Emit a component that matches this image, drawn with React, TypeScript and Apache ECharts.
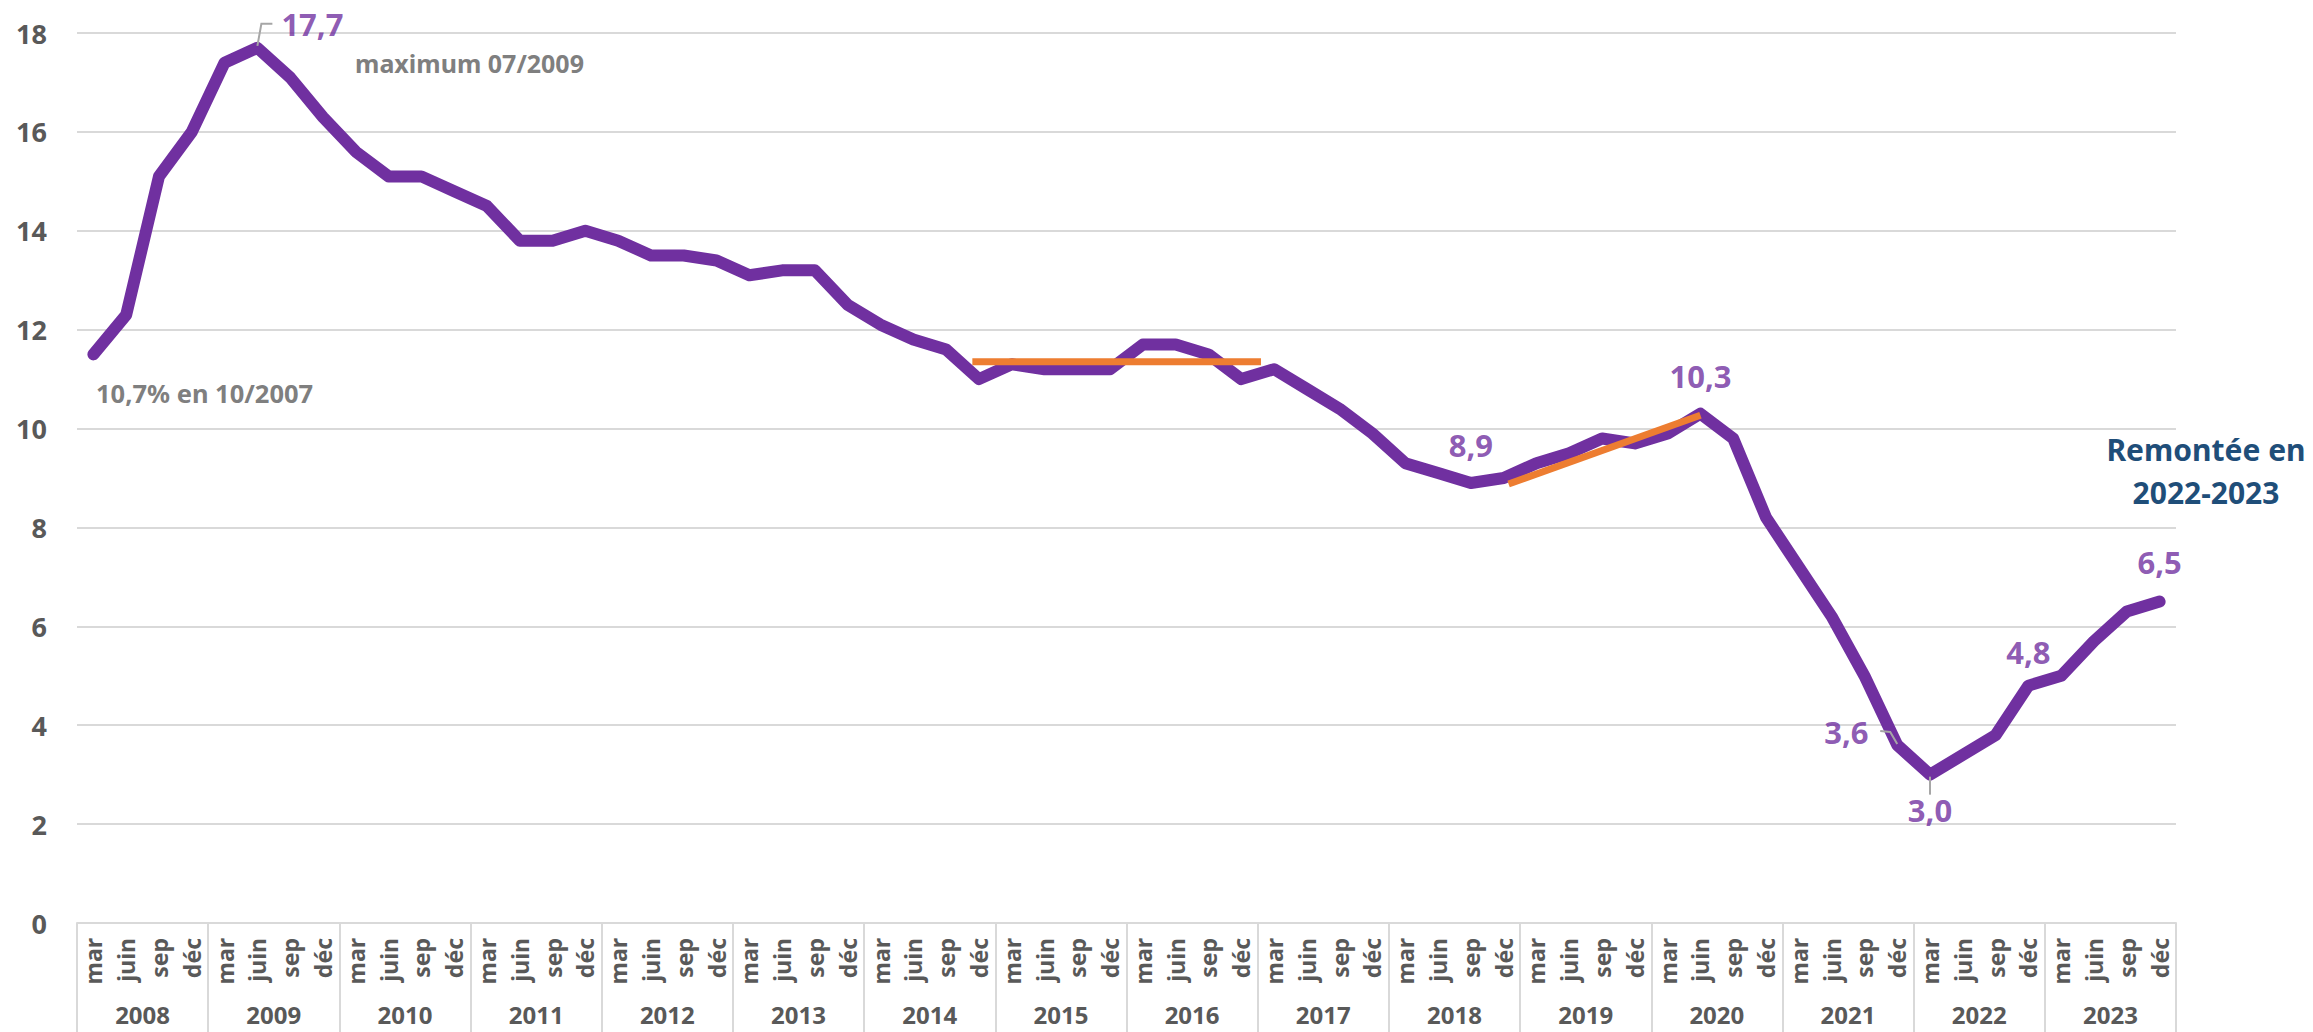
import React, { useEffect, useRef } from "react";
import * as echarts from "echarts";

const YEARS = ["2008", "2009", "2010", "2011", "2012", "2013", "2014", "2015", "2016", "2017", "2018", "2019", "2020", "2021", "2022", "2023"];
const QUARTERS = ["mar", "juin", "sep", "déc"];
const CATEGORIES = YEARS.flatMap((y) => QUARTERS.map((q) => `${y} ${q}`));

const VALUES = [
  11.5, 12.3, 15.1, 16.0,
  17.4, 17.7, 17.1, 16.3,
  15.6, 15.1, 15.1, 14.8,
  14.5, 13.8, 13.8, 14.0,
  13.8, 13.5, 13.5, 13.4,
  13.1, 13.2, 13.2, 12.5,
  12.1, 11.8, 11.6, 11.0,
  11.3, 11.2, 11.2, 11.2,
  11.7, 11.7, 11.5, 11.0,
  11.2, 10.8, 10.4, 9.9,
  9.3, 9.1, 8.9, 9.0,
  9.3, 9.5, 9.8, 9.7,
  9.9, 10.3, 9.8, 8.2,
  7.2, 6.2, 5.0, 3.6,
  3.0, 3.4, 3.8, 4.8,
  5.0, 5.7, 6.3, 6.5,
];

const LABELED_INDICES = [5, 42, 49, 55, 56, 59, 63];

// trend segments, x in category-index units
const TREND_FLAT = [[26.8, 11.35], [35.6, 11.35]];
const TREND_RISE = [[43.15, 8.88], [49.0, 10.27]];

const Y_MIN = 0;
const Y_MAX = 18;
const Y_STEP = 2;

const NOTE_MAX = "maximum 07/2009";
const NOTE_START = "10,7% en 10/2007";
const NOTE_RISE = ["Remontée en", "2022-2023"];

const FONT = "'Noto Sans', sans-serif";
const PURPLE = "#7030A0";
const ORANGE = "#ED7D31";
const GRID_GRAY = "#D9D9D9";
const TEXT_GRAY = "#595959";
const NOTE_GRAY = "#7F7F7F";
const LEADER = "#A6A6A6";

const fmt = (v: number) => v.toFixed(1).replace(".", ",");

function labelFor(i: number): any {
  const base = { show: true, color: PURPLE, fontSize: 31, fontWeight: "bold", fontFamily: FONT, formatter: (p: any) => fmt(p.value[1]) };
  switch (i) {
    case 5:
      return { ...base, position: [25, -38], align: "left", verticalAlign: "top" };
    case 55:
      return { ...base, position: [-72, -28], align: "left", verticalAlign: "top" };
    case 56:
      return { ...base, position: "bottom", distance: 19 };
    case 59:
      return { ...base, position: "top", distance: 17 };
    case 63:
      return { ...base, position: "top", distance: 23 };
    default:
      return { ...base, position: "top", distance: 21 };
  }
}

export default function App() {
  const ref = useRef<HTMLDivElement>(null);
  useEffect(() => {
    document.body.style.margin = "0";
    const chart = echarts.init(ref.current!, null, { renderer: "svg" });
    const option: any = {
      animation: false,
      backgroundColor: "#ffffff",
      textStyle: { fontFamily: FONT },
      grid: { left: 77, top: 33, width: 2099, height: 890, containLabel: false },
      xAxis: [
        {
          type: "category",
          data: CATEGORIES,
          position: "bottom",
          boundaryGap: true,
          axisLine: { show: false },
          axisTick: { show: false },
          axisLabel: {
            interval: 0,
            rotate: 90,
            margin: 15,
            fontSize: 23,
            fontWeight: "bold",
            color: TEXT_GRAY,
            fontFamily: FONT,
            formatter: (v: string) => v.split(" ")[1],
          },
        },
        {
          type: "category",
          data: YEARS,
          position: "bottom",
          boundaryGap: true,
          axisLine: { show: true, lineStyle: { color: GRID_GRAY, width: 2 } },
          axisTick: { show: true, interval: 0, length: 109, lineStyle: { color: GRID_GRAY, width: 2 } },
          axisLabel: { interval: 0, margin: 79, fontSize: 24, lineHeight: 24, fontWeight: "bold", color: TEXT_GRAY, fontFamily: FONT },
        },
        { type: "value", min: -0.5, max: 63.5, show: false, position: "top" },
      ],
      yAxis: {
        type: "value",
        min: Y_MIN,
        max: Y_MAX,
        interval: Y_STEP,
        axisLine: { show: false },
        axisTick: { show: false },
        splitLine: { lineStyle: { color: GRID_GRAY, width: 2 } },
        axisLabel: { margin: 30, fontSize: 27, fontWeight: "bold", color: TEXT_GRAY, fontFamily: FONT },
      },
      series: [
        {
          type: "line",
          xAxisIndex: 0,
          data: VALUES,
          symbol: "none",
          lineStyle: { color: PURPLE, width: 12, cap: "round", join: "round" },
          z: 2,
        },
        {
          type: "line",
          xAxisIndex: 2,
          data: TREND_FLAT,
          symbol: "none",
          lineStyle: { color: ORANGE, width: 7, cap: "butt" },
          z: 3,
        },
        {
          type: "line",
          xAxisIndex: 2,
          data: TREND_RISE,
          symbol: "none",
          lineStyle: { color: ORANGE, width: 7, cap: "butt" },
          z: 3,
        },
        {
          type: "scatter",
          xAxisIndex: 0,
          symbolSize: 2,
          itemStyle: { color: "rgba(0,0,0,0)" },
          z: 5,
          data: LABELED_INDICES.map((i) => ({ value: [i, VALUES[i]], label: labelFor(i) })),
        },
      ],
    };
    chart.setOption(option);

    const px = (i: number) => chart.convertToPixel({ xAxisIndex: 0, yAxisIndex: 0 }, [i, VALUES[i]]) as number[];
    const p5 = px(5);
    const p55 = px(55);
    const p56 = px(56);
    const leader = (pts: number[][]) => ({
      type: "polyline",
      shape: { points: pts },
      style: { stroke: LEADER, lineWidth: 2, fill: null },
      z: 10,
    });
    const noteStyle = { fill: NOTE_GRAY, font: `bold 25px ${FONT}`, textVerticalAlign: "middle" };
    chart.setOption({
      graphic: [
        leader([[p5[0], p5[1] - 2], [p5[0] + 4, p5[1] - 24], [p5[0] + 15, p5[1] - 24]]),
        leader([[p55[0] - 17, p55[1] - 14], [p55[0] - 7, p55[1] - 13], [p55[0], p55[1] - 1]]),
        leader([[p56[0], p56[1] + 2], [p56[0], p56[1] + 20]]),
        { type: "text", x: 355, y: 63, style: { ...noteStyle, text: NOTE_MAX }, z: 10 },
        { type: "text", x: 96, y: 393, style: { ...noteStyle, font: `bold 25.5px ${FONT}`, text: NOTE_START }, z: 10 },
        {
          type: "text",
          x: 2206,
          y: 449,
          style: { text: NOTE_RISE[0], fill: "#1F4E79", font: `bold 30px ${FONT}`, textAlign: "center", textVerticalAlign: "middle" },
          z: 10,
        },
        {
          type: "text",
          x: 2206,
          y: 492,
          style: { text: NOTE_RISE[1], fill: "#1F4E79", font: `bold 30px ${FONT}`, textAlign: "center", textVerticalAlign: "middle" },
          z: 10,
        },
      ],
    });
    return () => chart.dispose();
  }, []);
  return <div ref={ref} style={{ position: "fixed", left: 0, top: 0, width: 2313, height: 1032 }} />;
}
